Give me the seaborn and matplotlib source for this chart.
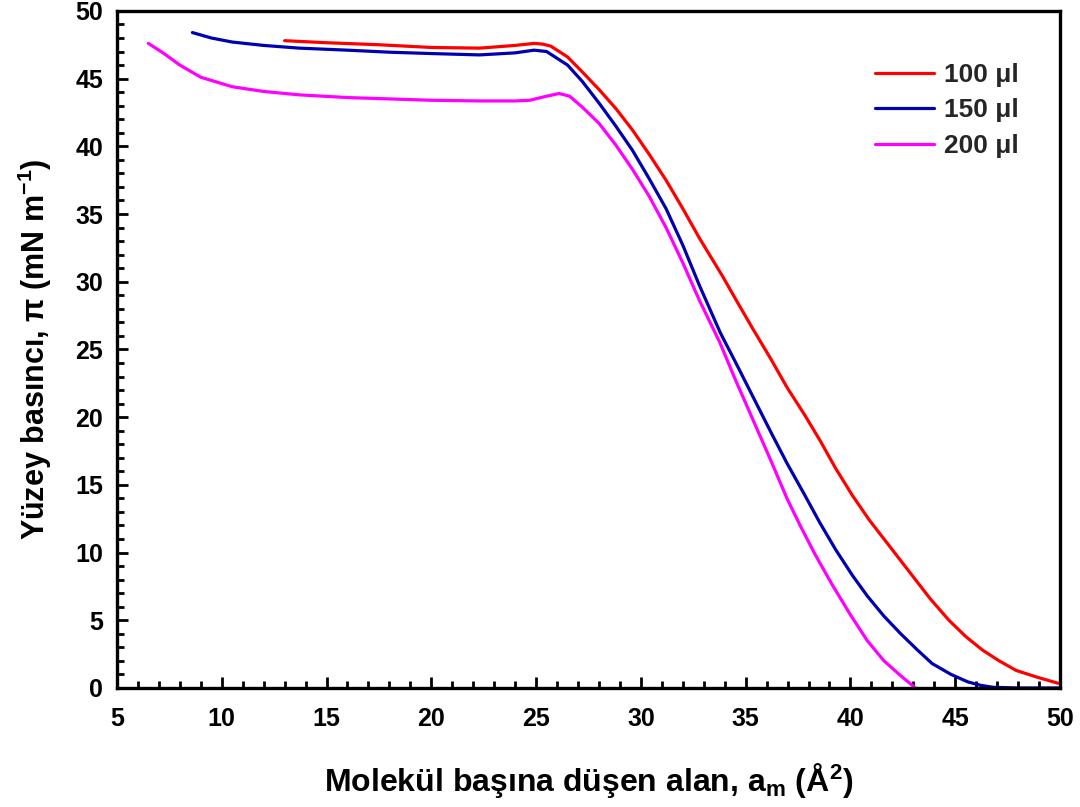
import matplotlib
matplotlib.use("Agg")
import matplotlib.pyplot as plt
from matplotlib.ticker import MultipleLocator
import seaborn as sns
import pandas as pd

# ---- data ----
x_100 = [13.0, 15.0, 17.5, 20.0, 22.3, 24.0, 24.9, 25.3, 25.7, 26.5, 27.2, 28.0, 28.8, 29.6,
         30.4, 31.2, 32.0, 32.8, 33.9, 34.6, 35.35, 36.2, 36.97, 37.8, 38.54, 39.3, 40.1,
         40.9, 41.7, 42.4, 43.0, 43.8, 44.7, 45.5, 46.3, 47.1, 47.9, 48.9, 49.9]
y_100 = [47.8, 47.65, 47.5, 47.3, 47.25, 47.45, 47.6, 47.55, 47.4, 46.6, 45.5, 44.2, 42.8, 41.2,
         39.4, 37.5, 35.4, 33.2, 30.4, 28.5, 26.5, 24.3, 22.2, 20.2, 18.3, 16.2, 14.2,
         12.4, 10.8, 9.4, 8.2, 6.6, 5.0, 3.8, 2.8, 2.0, 1.3, 0.8, 0.35]

x_150 = [8.6, 9.5, 10.5, 12.0, 13.7, 16.0, 18.0, 20.0, 22.3, 24.0, 24.9, 25.5, 26.5, 27.2,
         28.0, 28.8, 29.6, 30.4, 31.2, 32.0, 32.8, 33.8, 34.6, 35.35, 36.2, 36.97, 37.8,
         38.54, 39.3, 40.1, 40.8, 41.6, 42.4, 43.2, 43.9, 44.8, 45.6, 46.2, 46.8, 48.0, 50.0]
y_150 = [48.4, 48.0, 47.7, 47.45, 47.25, 47.1, 46.95, 46.85, 46.75, 46.9, 47.1, 47.0, 46.0, 44.8,
         43.2, 41.5, 39.7, 37.6, 35.4, 32.7, 29.7, 26.2, 23.8, 21.5, 18.9, 16.6, 14.3,
         12.2, 10.2, 8.3, 6.8, 5.3, 4.0, 2.8, 1.8, 1.0, 0.45, 0.2, 0.05, 0.0, 0.0]

x_200 = [6.5, 7.2, 8.0, 9.0, 10.5, 12.0, 13.7, 16.0, 18.0, 20.0, 22.3, 24.0, 24.7, 25.5,
         26.1, 26.6, 27.2, 28.0, 28.8, 29.6, 30.4, 31.2, 32.0, 32.8, 33.77, 34.5, 35.35,
         36.2, 36.97, 37.6, 38.3, 39.1, 40.0, 40.8, 41.6, 42.4, 43.1]
y_200 = [47.6, 46.9, 46.0, 45.1, 44.4, 44.05, 43.8, 43.6, 43.5, 43.4, 43.35, 43.35, 43.4, 43.7,
         43.9, 43.7, 42.9, 41.7, 40.1, 38.3, 36.3, 34.0, 31.4, 28.6, 25.5, 22.8, 19.8,
         16.8, 14.0, 12.0, 9.9, 7.7, 5.4, 3.5, 2.0, 0.9, 0.0]

series_labels = ["100 μl", "150 μl", "200 μl"]
series_colors = ["#FF0000", "#0000B0", "#FF00FF"]

x_ticks = [5, 10, 15, 20, 25, 30, 35, 40, 45, 50]
y_ticks = [0, 5, 10, 15, 20, 25, 30, 35, 40, 45, 50]

# ---- build tidy table ----
frames = []
for lab, xs, ys in zip(series_labels, [x_100, x_150, x_200], [y_100, y_150, y_200]):
    frames.append(pd.DataFrame({"x": xs, "y": ys, "series": lab}))
df = pd.concat(frames, ignore_index=True)

sns.set_theme(style="white")
plt.rcParams["font.family"] = ["Liberation Sans", "DejaVu Sans"]
plt.rcParams["font.weight"] = "bold"
plt.rcParams["mathtext.fontset"] = "custom"
plt.rcParams["mathtext.rm"] = "Liberation Sans:bold"
plt.rcParams["mathtext.bf"] = "Liberation Sans:bold"
plt.rcParams["mathtext.it"] = "Liberation Sans:bold"

fig = plt.figure(figsize=(10.8, 8.07), dpi=100)
ax = fig.add_axes([0.1083, 0.1475, 0.8732, 0.839])

sns.lineplot(data=df, x="x", y="y", hue="series", palette=dict(zip(series_labels, series_colors)),
             sort=False, estimator=None, linewidth=2.3, ax=ax, legend=True)

ax.set_xlim(5, 50)
ax.set_ylim(0, 50)
ax.set_xticks(x_ticks)
ax.set_yticks(y_ticks)
ax.xaxis.set_minor_locator(MultipleLocator(1))
ax.yaxis.set_minor_locator(MultipleLocator(1))
ax.tick_params(axis="both", which="major", direction="in", length=8, width=2,
               labelsize=18, color="black", labelcolor="black")
ax.tick_params(axis="both", which="minor", direction="in", length=5, width=2, color="black")
ax.tick_params(axis="x", which="both", top=False, bottom=True, pad=14)
ax.tick_params(axis="y", which="both", right=False, left=True, pad=10)
for lab in ax.get_xticklabels() + ax.get_yticklabels():
    lab.set_fontweight("bold")

for s in ax.spines.values():
    s.set_visible(True)
    s.set_linewidth(2.4)
    s.set_color("black")

ax.set_xlabel("Molekül başına düşen alan, a$_{\\mathrm{m}}$ (Å$^{2}$)", fontsize=23,
              fontweight="bold", color="black")
ax.set_ylabel("Yüzey basıncı, π (mN m$^{-1}$)", fontsize=22, fontweight="bold",
              color="black")
ax.xaxis.set_label_coords(0.5, -0.108)
ax.yaxis.set_label_coords(-0.067, 0.5)

handles, labels = ax.get_legend_handles_labels()
leg = ax.legend(handles, labels, loc="upper left", bbox_to_anchor=(0.793, 0.939),
                borderaxespad=0, frameon=False, fontsize=19, handlelength=2.23,
                handletextpad=0.38, labelspacing=0.44)
for t in leg.get_texts():
    t.set_fontweight("bold")
for l in leg.get_lines():
    l.set_linewidth(2.3)

fig.savefig("out.png", dpi=100, facecolor="white")
